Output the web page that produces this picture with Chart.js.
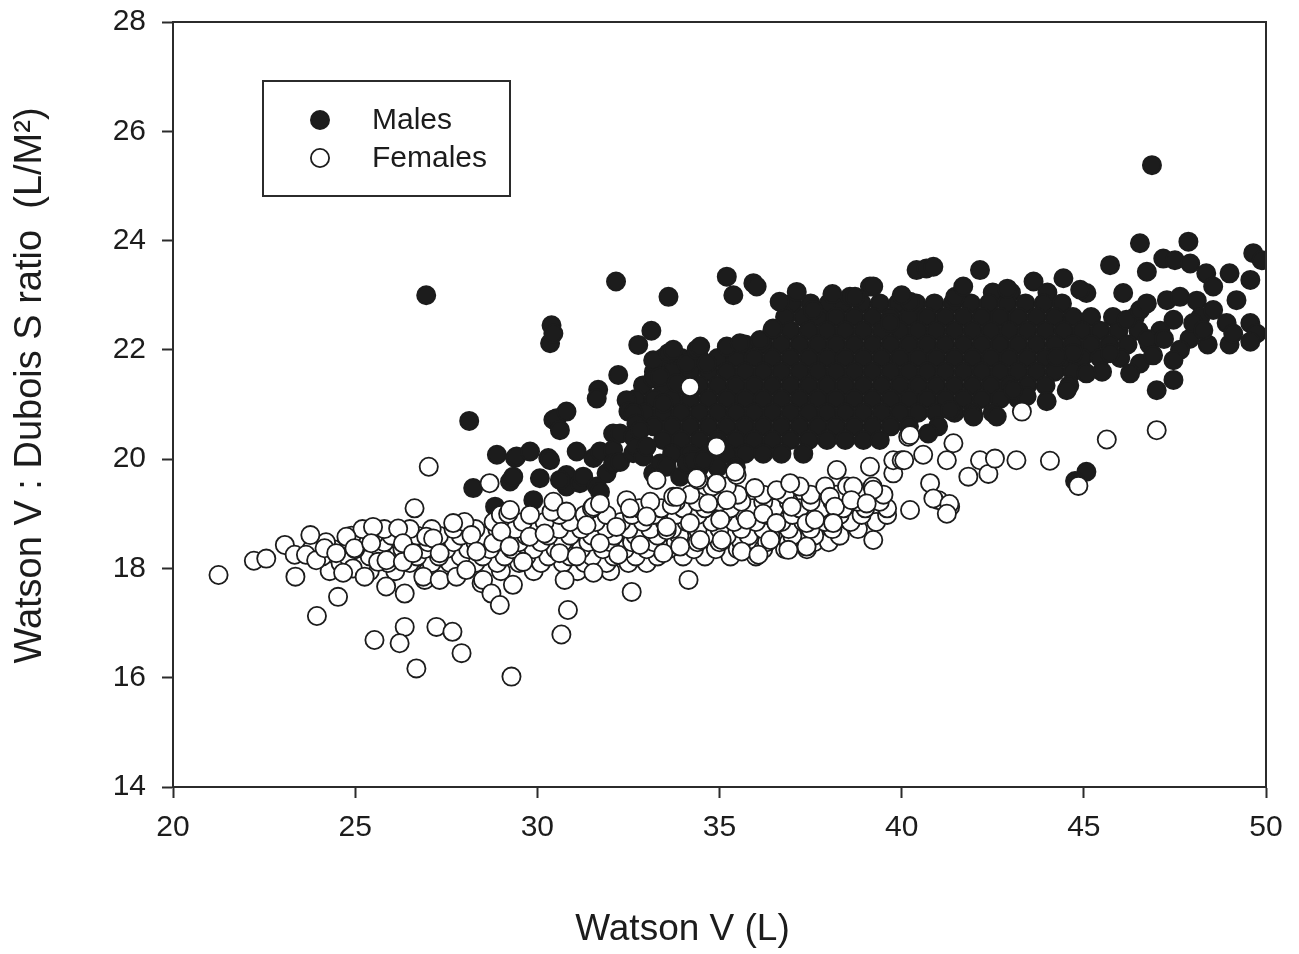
<!DOCTYPE html>
<html>
<head>
<meta charset="utf-8">
<title>Watson V vs Watson V : Dubois S ratio</title>
<script src="https://cdn.jsdelivr.net/npm/chart.js@4.4.1/dist/chart.umd.min.js"></script>
<style>
  html, body { margin: 0; padding: 0; background: #fff; }
  #wrap { width: 1299px; height: 954px; }
</style>
</head>
<body>
<div id="wrap"><canvas id="chart" width="1299" height="954"></canvas></div>
<script>
// Scatter : Watson V (L) contre le ratio Watson V / surface Dubois, hommes et femmes.

const INK = '#1c1c1c';
const AXIS = '#2b2b2b';
const FONT = "'Liberation Sans', Arial, Helvetica, sans-serif";

const X_TICKS = [20, 25, 30, 35, 40, 45, 50];
const Y_TICKS = [14, 16, 18, 20, 22, 24, 26, 28];

// Hommes : points isolés et bords du nuage, [Watson V, ratio]
const maleScattered = [
    [26.95,23.0],[28.13,20.7],[28.24,19.47],[28.84,19.13],[28.89,20.08],[29.25,19.59],[29.34,19.68],[29.39,20.02],
    [29.43,20.05],[29.8,20.14],[29.89,19.25],[30.07,19.65],[30.35,22.12],[30.39,22.45],[30.44,22.3],[30.44,20.72],
    [30.53,20.75],[30.8,20.87],[30.62,20.53],[30.3,20.02],[30.35,19.98],[30.8,19.71],[30.8,19.5],[30.62,19.62],
    [31.08,20.14],[31.17,19.56],[31.26,19.68],[31.54,20.02],[31.63,19.5],[31.72,19.4],[31.72,20.14],[31.9,19.74],
    [31.67,21.27],[31.63,21.11],[32.22,21.54],[32.16,23.25],[32.45,21.08],[32.5,20.87],[32.64,20.84],[32.72,20.65],
    [32.08,20.47],[32.08,20.17],[32.08,19.92],[32.27,20.47],[32.27,19.95],[32.63,20.41],[32.63,20.11],[32.72,20.23],
    [32.82,20.53],[32.77,22.09],[32.91,20.05],[33.0,20.23],[33.13,22.35],[33.18,21.81],[33.18,21.48],[33.18,19.74],
    [33.37,21.51],[33.37,19.92],[33.46,21.02],[33.55,19.86],[33.6,22.97],[33.6,21.94],[33.73,22.0],[33.83,21.39],
    [33.92,19.68],[34.1,21.75],[34.1,19.92],[34.28,19.98],[34.37,22.0],[34.47,22.06],[34.56,19.98],[34.65,21.75],
    [35.2,23.34],[35.38,23.0],[35.93,23.22],[36.02,23.16],[35.2,22.06],[35.56,22.12],[36.11,22.18],[36.47,22.39],
    [36.65,22.88],[37.12,23.06],[37.57,22.73],[38.58,22.97],[38.72,22.97],[39.13,23.16],[39.22,23.16],[39.68,22.49],
    [40.23,22.88],[40.41,23.46],[40.68,23.49],[40.87,23.52],[41.47,22.97],[41.69,23.16],[42.15,23.46],[43.62,23.25],
    [44.44,23.31],[45.07,23.04],[45.72,23.55],[46.08,23.04],[46.17,22.55],[46.54,23.95],[46.54,22.73],[46.73,23.43],
    [46.73,22.85],[46.87,25.38],[47.18,23.67],[47.5,23.64],[47.87,23.98],[47.92,23.58],[48.36,23.4],[48.55,23.16],
    [49.0,23.4],[49.19,22.91],[49.57,23.28],[49.65,23.77],[49.88,23.64],[47.28,22.91],[47.64,22.97],[47.46,22.55],
    [48.1,22.9],[48.2,22.6],[47.9,22.2],[48.0,22.49],[48.28,22.36],[48.55,22.73],[48.92,22.49],[49.1,22.3],
    [49.57,22.49],[49.74,22.3],[49.57,22.15],[47.64,22.0],[47.46,21.81],[47.46,21.45],[47.0,21.26],[46.54,21.75],
    [46.27,21.57],[46.75,22.2],[47.2,22.2],[46.9,21.9],[45.72,21.94],[45.07,21.57],[44.71,21.94],[44.25,21.87],
    [44.53,21.26],[43.98,21.06],[43.43,21.15],[43.06,21.27],[42.61,20.78],[41.97,20.78],[41.33,20.9],[40.73,20.47],
    [45.07,19.77],[44.76,19.6],[38.1,23.02],[42.9,23.12],[40.0,23.0],[44.9,23.1]
];

// Hommes : coeur dense du nuage, lu rangée par rangée [ratio, [Watson V...]]
const maleRows = [
    [23.05, [42.5, 43.0, 44.0]],
    [22.85, [37.0, 37.5, 38.0, 38.4, 38.9, 39.4, 39.9, 40.4, 40.9, 41.4, 41.9, 42.4, 42.9, 43.4, 43.9, 44.4]],
    [22.6,  [36.8, 37.3, 37.7, 38.2, 38.7, 39.2, 39.7, 40.2, 40.7, 41.2, 41.7, 42.2, 42.7, 43.2, 43.7, 44.2, 44.7, 45.2, 45.8, 46.4]],
    [22.35, [36.45, 36.95, 37.45, 37.95, 38.45, 38.95, 39.45, 39.95, 40.45, 40.95, 41.45, 41.95, 42.45, 42.95, 43.45, 43.95, 44.45, 44.95, 45.45, 45.95, 46.5, 47.1]],
    [22.1,  [35.7, 36.2, 36.7, 37.2, 37.7, 38.2, 38.7, 39.2, 39.7, 40.2, 40.7, 41.2, 41.7, 42.2, 42.7, 43.2, 43.7, 44.2, 44.7, 45.2, 45.7, 46.2, 46.8, 48.4, 49.0]],
    [21.85, [33.45, 33.95, 34.45, 34.95, 35.45, 35.95, 36.45, 36.95, 37.45, 37.95, 38.45, 38.95, 39.45, 39.95, 40.45, 40.95, 41.45, 41.95, 42.45, 42.95, 43.45, 43.95, 44.45, 44.95, 45.45, 46.0]],
    [21.6,  [33.2, 33.7, 34.2, 34.7, 35.2, 35.7, 36.2, 36.7, 37.2, 37.7, 38.2, 38.7, 39.2, 39.7, 40.2, 40.7, 41.2, 41.7, 42.2, 42.7, 43.2, 43.7, 44.2, 44.7, 45.5]],
    [21.35, [32.9, 33.45, 33.95, 34.45, 34.95, 35.45, 35.95, 36.45, 36.95, 37.45, 37.95, 38.45, 38.95, 39.45, 39.95, 40.45, 40.95, 41.45, 41.95, 42.45, 42.95, 43.45, 43.95, 44.6]],
    [21.1,  [32.7, 33.2, 33.7, 34.2, 34.7, 35.2, 35.7, 36.2, 36.7, 37.2, 37.7, 38.2, 38.7, 39.2, 39.7, 40.2, 40.7, 41.2, 41.7, 42.2, 42.7, 43.2]],
    [20.85, [32.95, 33.45, 33.95, 34.45, 34.95, 35.45, 35.95, 36.45, 36.95, 37.45, 37.95, 38.45, 38.95, 39.45, 39.95, 40.45, 40.95, 41.45, 41.95, 42.5]],
    [20.6,  [33.2, 33.7, 34.2, 34.7, 35.2, 35.7, 36.2, 36.7, 37.2, 37.7, 38.2, 38.7, 39.2, 39.7, 40.2, 41.0]],
    [20.35, [33.45, 33.95, 34.45, 34.95, 35.45, 35.95, 36.45, 36.95, 37.45, 37.95, 38.45, 38.95, 39.4]],
    [20.1,  [33.7, 34.2, 34.7, 35.2, 35.7, 36.2, 36.7, 37.3]],
    [19.85, [34.45, 34.95, 35.45]]
];

// Femmes : points isolés et bords de la bande
const femaleScattered = [
    [21.25,17.88],[22.22,18.14],[22.56,18.18],[23.07,18.43],[23.34,18.25],[23.36,17.85],[23.77,18.61],[23.65,18.25],
    [23.93,18.15],[23.95,17.13],[24.16,18.37],[24.48,18.28],[24.53,17.48],[24.76,18.58],[24.98,18.37],[24.94,18.0],
    [24.67,17.92],[25.49,18.76],[25.44,18.46],[25.63,18.12],[25.26,17.85],[25.53,16.69],[25.85,17.67],[25.86,18.15],
    [26.18,18.73],[26.31,18.46],[26.31,18.12],[26.36,17.54],[26.36,16.93],[26.22,16.63],[26.63,19.1],[27.02,19.86],
    [26.59,18.28],[26.95,18.58],[26.68,16.17],[26.91,17.79],[26.87,17.85],[27.14,18.55],[27.23,16.93],[27.67,16.84],
    [27.92,16.45],[27.32,17.79],[27.32,18.28],[27.69,18.83],[27.78,17.85],[28.19,18.61],[28.05,17.97],[28.33,18.31],
    [28.47,17.73],[28.51,17.79],[28.74,17.54],[28.97,17.33],[28.69,19.56],[28.79,18.46],[29.2,19.0],[29.01,18.67],
    [29.24,18.4],[29.61,18.12],[29.33,17.7],[29.29,16.02],[29.25,19.07],[29.79,18.58],[30.2,18.64],[30.39,19.04],
    [30.44,19.22],[30.61,18.28],[30.75,17.79],[30.66,16.79],[30.84,17.24],[30.8,19.04],[31.08,18.22],[31.35,18.79],
    [31.54,19.13],[31.72,18.46],[31.54,17.92],[31.72,19.19],[32.17,18.76],[32.22,18.25],[32.45,19.25],[32.54,19.1],
    [32.82,18.43],[32.59,17.57],[33.0,18.95],[33.27,19.62],[33.55,18.7],[33.46,18.28],[33.69,19.16],[33.73,19.31],
    [33.83,19.31],[33.92,18.4],[33.55,18.76],[34.15,17.79],[34.19,21.32],[34.92,20.23],[34.42,19.62],[34.37,19.65],
    [34.92,19.56],[35.47,19.71],[35.43,19.77],[34.19,18.83],[34.69,19.19],[35.2,19.25],[35.02,18.89],[34.47,18.52],
    [35.06,18.52],[35.61,18.31],[36.07,18.25],[35.75,18.89],[35.97,19.47],[36.2,19.0],[36.56,18.83],[36.39,18.52],
    [36.57,19.43],[36.94,19.56],[36.89,18.34],[36.98,19.13],[37.39,18.83],[37.62,18.89],[37.39,18.4],[38.03,19.31],
    [38.17,19.13],[38.22,19.8],[38.12,18.83],[38.67,19.5],[38.62,19.25],[39.13,19.86],[39.22,19.44],[39.04,19.19],
    [39.22,18.52],[39.77,19.74],[39.77,19.98],[40.0,19.98],[40.18,20.41],[40.59,20.08],[40.78,19.56],[41.01,19.25],
    [41.24,19.98],[41.33,19.13],[41.42,20.29],[40.23,19.07],[40.23,20.44],[40.87,19.28],[41.31,19.18],[41.24,19.0],
    [40.07,19.98],[41.83,19.68],[42.15,19.98],[42.38,19.73],[42.56,20.01],[43.15,19.98],[43.3,20.87],[44.07,19.97],
    [44.85,19.51],[45.63,20.36],[47.0,20.53]
];

// Femmes : intérieur de la bande, rangée par rangée [ratio, [Watson V...]]
const femaleRows = [
    [17.95, [24.3, 25.4, 26.1, 27.0, 27.9, 29.0, 29.9, 31.1, 32.0]],
    [18.1,  [24.6, 25.2, 25.9, 26.5, 27.1, 27.6, 28.3, 28.9, 29.5, 30.1, 30.7, 31.3, 31.9, 32.5, 33.0]],
    [18.22, [24.1, 24.8, 25.4, 26.0, 26.7, 27.3, 27.9, 28.5, 29.1, 29.7, 30.3, 30.9, 31.5, 32.1, 32.7, 33.3, 34.0, 34.6, 35.3, 36.0]],
    [18.35, [23.8, 24.4, 25.0, 25.7, 26.3, 26.9, 27.5, 28.1, 28.7, 29.3, 29.9, 30.5, 31.2, 31.8, 32.4, 33.0, 33.6, 34.3, 34.9, 35.5, 36.2, 36.8, 37.4]],
    [18.48, [24.2, 25.2, 25.8, 26.4, 27.0, 27.7, 28.3, 28.9, 29.5, 30.1, 30.7, 31.4, 32.0, 32.6, 33.2, 33.8, 34.4, 35.0, 35.6, 36.3, 36.9, 37.6, 38.0]],
    [18.6,  [24.9, 25.5, 26.0, 26.7, 27.3, 27.9, 28.5, 29.1, 29.7, 30.3, 30.9, 31.5, 32.1, 32.7, 33.3, 33.9, 34.6, 35.2, 35.8, 36.4, 37.0, 37.6, 38.3]],
    [18.72, [25.2, 25.8, 26.5, 27.1, 27.7, 28.3, 28.9, 29.4, 30.0, 30.6, 31.2, 31.9, 32.5, 33.1, 33.7, 34.4, 35.0, 35.6, 36.2, 36.9, 37.5, 38.1, 38.8]],
    [18.85, [28.0, 28.8, 29.6, 30.2, 30.9, 31.6, 32.3, 32.9, 33.5, 34.1, 34.8, 35.4, 36.0, 36.7, 37.3, 37.9, 38.6, 39.3]],
    [18.98, [29.0, 29.8, 30.6, 31.3, 31.9, 32.6, 33.2, 33.8, 34.4, 35.1, 35.7, 36.3, 37.0, 37.6, 38.3, 38.9, 39.6]],
    [19.1,  [31.5, 32.8, 33.4, 34.0, 34.6, 35.3, 35.9, 36.5, 37.2, 37.8, 38.4, 39.0, 39.6]],
    [19.22, [33.1, 33.8, 34.4, 35.0, 35.6, 36.2, 36.9, 37.5, 38.1, 38.8, 39.4]],
    [19.35, [34.2, 34.9, 35.5, 36.2, 36.8, 37.5, 38.2, 38.9, 39.5]],
    [19.5,  [34.8, 35.2, 37.2, 37.9, 38.5, 39.2]]
];

function toPoints(rows, scattered) {
    const pts = [];
    rows.forEach(([y, xs]) => xs.forEach(x => pts.push({ x, y })));
    scattered.forEach(([x, y]) => pts.push({ x, y }));
    return pts;
}

// cadre complet + légende encadrée dans la zone de tracé
const frameAndLegend = {
    id: 'frameAndLegend',
    afterDraw(chart) {
        const { ctx, chartArea: a } = chart;
        ctx.save();
        ctx.strokeStyle = AXIS;
        ctx.lineWidth = 2;
        ctx.beginPath();
        ctx.moveTo(a.left, a.top); ctx.lineTo(a.right, a.top); ctx.lineTo(a.right, a.bottom);
        ctx.stroke();

        const bx = a.left + 90, by = a.top + 59;
        ctx.strokeRect(bx, by, 247, 115);

        ctx.fillStyle = INK; ctx.strokeStyle = INK;
        ctx.beginPath(); ctx.arc(bx + 57, by + 39, 9, 0, Math.PI * 2); ctx.fill(); ctx.stroke();
        ctx.fillStyle = '#fff'; ctx.lineWidth = 1.8;
        ctx.beginPath(); ctx.arc(bx + 57, by + 77, 9.1, 0, Math.PI * 2); ctx.fill(); ctx.stroke();

        ctx.fillStyle = INK;
        ctx.font = '30px ' + FONT;
        ctx.textAlign = 'left';
        ctx.textBaseline = 'middle';
        ctx.fillText('Males', bx + 109, by + 40);
        ctx.fillText('Females', bx + 109, by + 78);
        ctx.restore();
    }
};

new Chart(document.getElementById('chart').getContext('2d'), {
    type: 'scatter',
    data: {
        datasets: [
            { label: 'Males', data: toPoints(maleRows, maleScattered), order: 1, clip: 0,
              pointRadius: 9, pointBackgroundColor: INK, pointBorderColor: INK, pointBorderWidth: 2 },
            { label: 'Females', data: toPoints(femaleRows, femaleScattered), order: 0, clip: 0,
              pointRadius: 9.1, pointBackgroundColor: '#ffffff', pointBorderColor: INK, pointBorderWidth: 1.8 }
        ]
    },
    options: {
        responsive: false, animation: false, events: [],
        layout: { padding: { top: 22, right: 33, bottom: 0, left: 0 } },
        plugins: { legend: { display: false }, tooltip: { enabled: false } },
        scales: {
            x: {
                type: 'linear', min: X_TICKS[0], max: X_TICKS[X_TICKS.length - 1],
                afterBuildTicks: s => { s.ticks = X_TICKS.map(v => ({ value: v })); },
                afterFit: s => { s.height = 167; s.paddingLeft = 0; s.paddingRight = 0; },
                ticks: { color: INK, font: { family: FONT, size: 30 }, padding: 12 },
                grid: { drawOnChartArea: false, tickLength: 11, tickColor: AXIS, tickWidth: 2 },
                border: { color: AXIS, width: 2 },
                title: { display: true, text: 'Watson V (L)\u2002\u2002\u2002\u2002', color: INK,
                         font: { family: FONT, size: 37 }, padding: { top: 0, bottom: 2 } }
            },
            y: {
                type: 'linear', min: Y_TICKS[0], max: Y_TICKS[Y_TICKS.length - 1],
                afterBuildTicks: s => { s.ticks = Y_TICKS.map(v => ({ value: v })); },
                afterFit: s => { s.width = 173; s.paddingTop = 0; s.paddingBottom = 0; },
                ticks: { color: INK, font: { family: FONT, size: 30 }, padding: 16 },
                grid: { drawOnChartArea: false, tickLength: 11, tickColor: AXIS, tickWidth: 2 },
                border: { color: AXIS, width: 2 },
                title: { display: true, text: '\u2002\u2002Watson V : Dubois S ratio  (L/M\u00b2)', color: INK,
                         font: { family: FONT, size: 38 }, padding: { top: 8, bottom: 0 } }
            }
        }
    },
    plugins: [frameAndLegend]
});
</script>
</body>
</html>
